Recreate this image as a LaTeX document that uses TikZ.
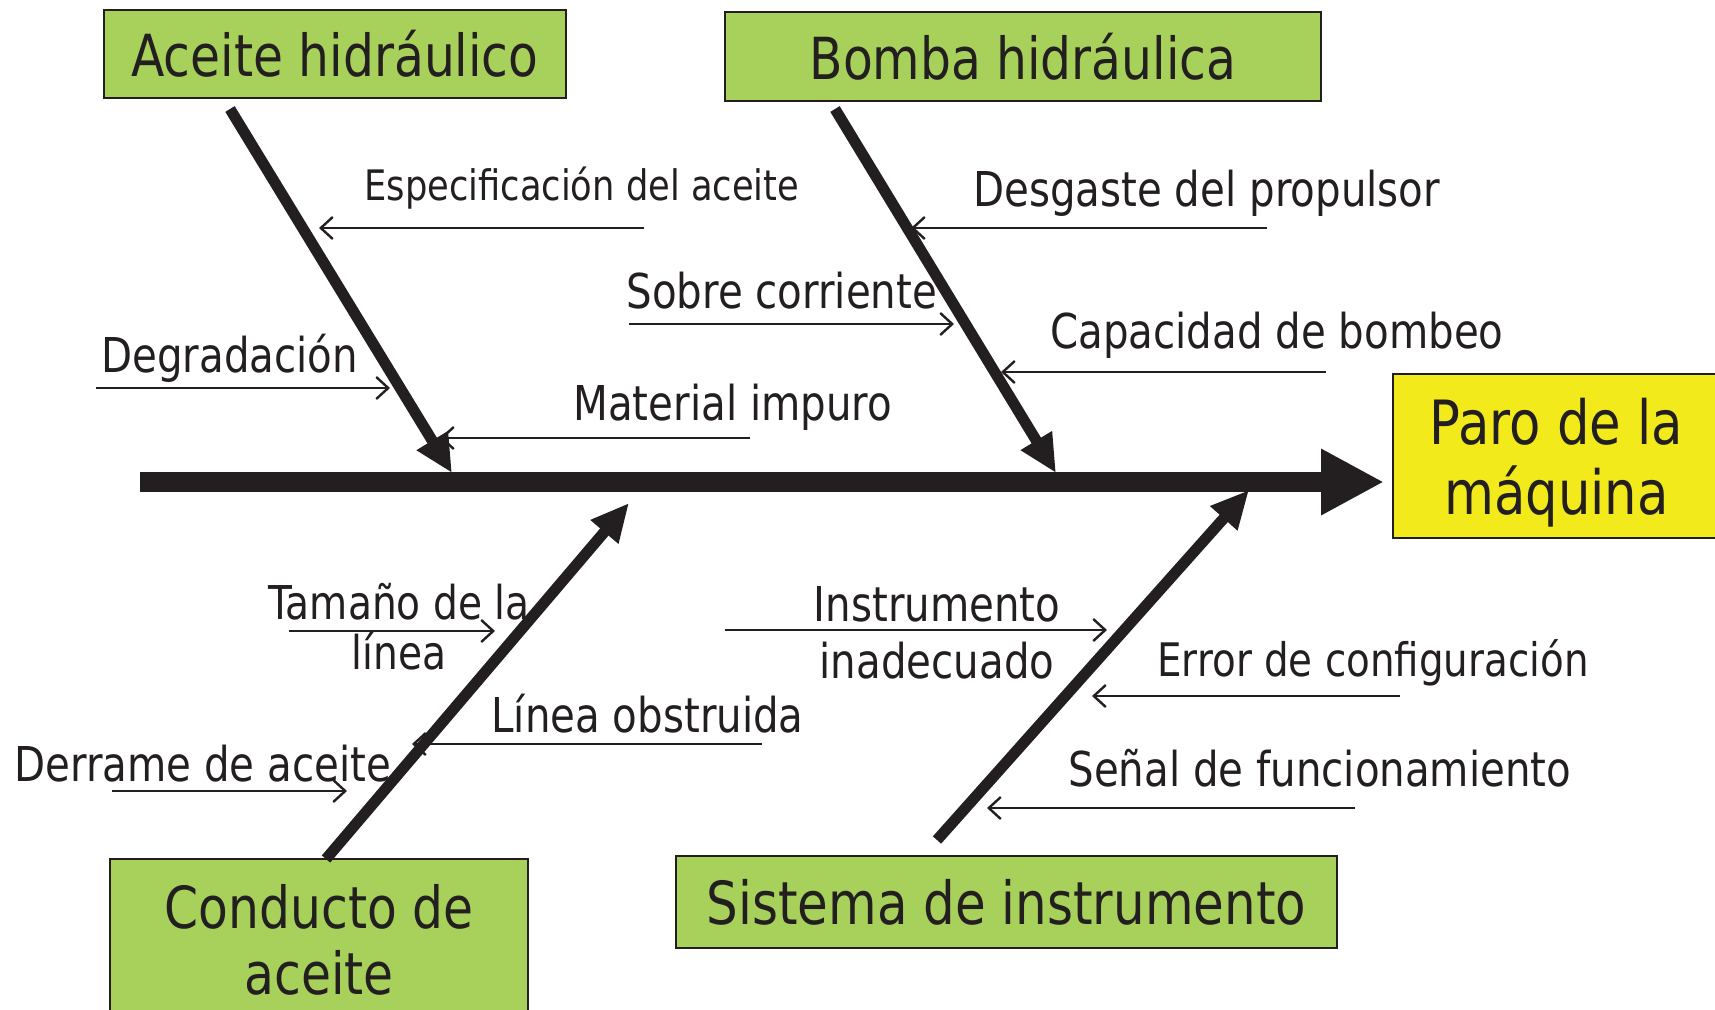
\documentclass[tikz,border=0pt]{standalone}
\usepackage{fontspec}
\setmainfont{DejaVu Sans}[FakeStretch=0.84]
\usetikzlibrary{arrows.meta}
\definecolor{boxgreen}{RGB}{167,209,91}
\definecolor{boxyellow}{RGB}{242,234,26}
\definecolor{ink}{RGB}{35,31,32}
\begin{document}
\begin{tikzpicture}[x=0.5pt,y=-0.5pt,
  catbox/.style={draw=ink, line width=1pt, fill=boxgreen, inner sep=0pt, align=center, text=ink, font=\fontsize{29}{33}\selectfont},
  effbox/.style={draw=ink, line width=1pt, fill=boxyellow, inner sep=0pt, align=center, text=ink, font=\fontsize{30.5}{35}\selectfont},
  bone/.style={draw=ink, line width=5.5pt, -{Triangle[length=19pt,width=17pt]}},
  spine/.style={draw=ink, line width=10pt, -{Triangle[length=31.5pt,width=31pt]}},
  cause/.style={draw=ink, line width=1.2pt, -{Straight Barb[length=6pt,width=11pt]}},
  lbl/.style={font=\fontsize{24}{28}\selectfont, inner sep=0pt, anchor=base west, text=ink},
  lblc/.style={lbl, anchor=base}]
\clip (0,0) rectangle (1715,1009);
\fill[white] (0,0) rectangle (1715,1009);

% category and effect boxes
\node[catbox, minimum width=231pt, minimum height=44pt] (aceite) at (335,54) {Aceite hidráulico};
\node[catbox, minimum width=298pt, minimum height=44.5pt] (bomba) at (1023,56.5) {Bomba hidráulica};
\node[draw=ink, line width=1pt, fill=boxgreen, minimum width=209pt, minimum height=91pt] (conducto) at (319,950) {};
\node[inner sep=0pt, align=center, text=ink, font=\fontsize{29}{33}\selectfont] (conductotxt) at (319,940) {Conducto de\\aceite};
\node[catbox, minimum width=330.5pt, minimum height=46pt, font=\fontsize{29.7}{33}\selectfont] (sistema) at (1006.5,902) {Sistema de instrumento};
\node[draw=ink, line width=1pt, fill=boxyellow, minimum width=163.5pt, minimum height=82pt] (paro) at (1556.5,456) {};
\node[inner sep=0pt, align=center, text=ink, font=\fontsize{30.5}{35}\selectfont] (parotxt) at (1556.5,463) {Paro de la\\máquina};

% spine
\coordinate (sp0) at (140,482);
\coordinate (sp1) at (1384,482);
\draw[spine] (sp0) -- (sp1);

% bones
\coordinate (b1s) at (230,109);  \coordinate (b1e) at (452,473);
\coordinate (b2s) at (835,109);  \coordinate (b2e) at (1056,473);
\coordinate (b3s) at (326,859);  \coordinate (b3e) at (629,503);
\coordinate (b4s) at (937,840);  \coordinate (b4e) at (1249,490);
\draw[bone] (b1s) -- (b1e);
\draw[bone] (b2s) -- (b2e);
\draw[bone] (b3s) -- (b3e);
\draw[bone] (b4s) -- (b4e);

% cause labels
\node[lbl, font=\fontsize{21}{25}\selectfont] (l1) at (364,200) {Especificación del aceite};
\node[lbl] (l2) at (101,372) {Degradación};
\node[lbl] (l3) at (573,420) {Material impuro};
\node[lbl] (l4) at (626,308) {Sobre corriente};
\node[lbl] (l5) at (973,206) {Desgaste del propulsor};
\node[lbl] (l6) at (1050,348) {Capacidad de bombeo};
\node[lblc, font=\fontsize{23.3}{28}\selectfont] (l7a) at (399,619) {Tamaño de la};
\node[lblc, font=\fontsize{23.3}{28}\selectfont] (l7b) at (399,669) {línea};
\node[lbl] (l8) at (14,781) {Derrame de aceite};
\node[lbl] (l9) at (491,732) {Línea obstruida};
\node[lblc] (l10a) at (937,621) {Instrumento};
\node[lblc] (l10b) at (937,678) {inadecuado};
\node[lbl, font=\fontsize{23.1}{28}\selectfont] (l11) at (1157,676) {Error de configuración};
\node[lbl] (l12) at (1068,786) {Señal de funcionamiento};

% cause arrows
\coordinate (c1s) at (644,228);  \coordinate (c1e) at (319,228);
\coordinate (c2s) at (96,388);   \coordinate (c2e) at (390,388);
\coordinate (c3s) at (750,438);  \coordinate (c3e) at (440,438);
\coordinate (c4s) at (629,324);  \coordinate (c4e) at (954,324);
\coordinate (c5s) at (1267,228); \coordinate (c5e) at (911,228);
\coordinate (c6s) at (1326,372); \coordinate (c6e) at (1001,372);
\coordinate (c7s) at (289,631);  \coordinate (c7e) at (495,631);
\coordinate (c8s) at (112,791);  \coordinate (c8e) at (347,791);
\coordinate (c9s) at (762,744);  \coordinate (c9e) at (412,744);
\coordinate (c10s) at (725,630); \coordinate (c10e) at (1107,630);
\coordinate (c11s) at (1400,696);\coordinate (c11e) at (1092,696);
\coordinate (c12s) at (1355,808);\coordinate (c12e) at (987,808);
\foreach \i in {1,...,12} {\draw[cause] (c\i s) -- (c\i e);}
\end{tikzpicture}
\end{document}
